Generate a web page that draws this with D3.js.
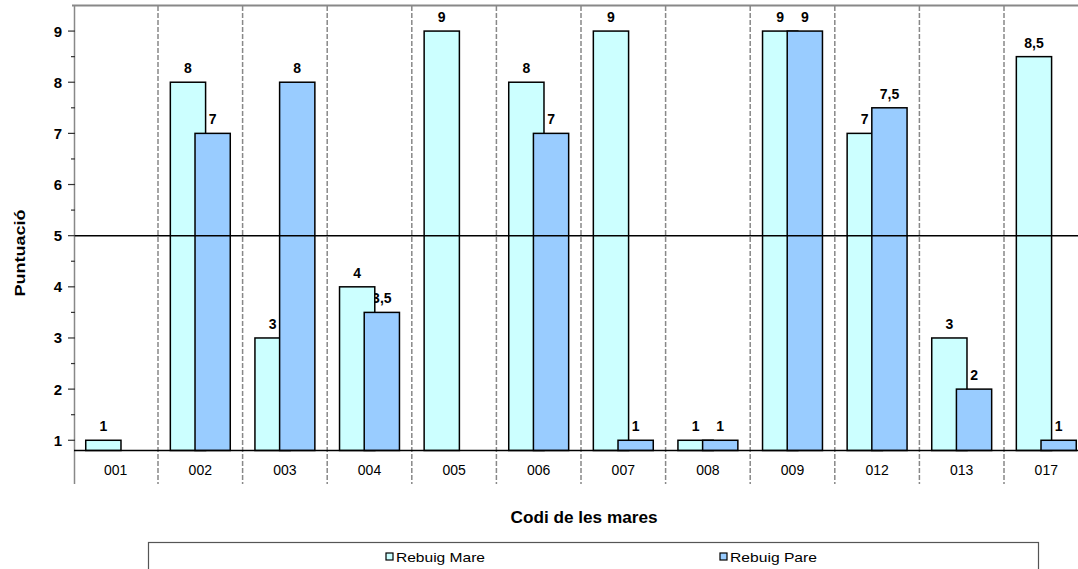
<!DOCTYPE html>
<html><head><meta charset="utf-8">
<script src="https://cdn.jsdelivr.net/npm/d3@7"></script>
<style>body{margin:0;background:#fff;overflow:hidden}svg{display:block}text{font-family:Arial,"Liberation Sans",sans-serif}</style>
</head><body>
<svg id="c" width="1078" height="569"></svg>
<script>
const categories = ["001","002","003","004","005","006","007","008","009","012","013","017"];
const mareValues = [1, 8, 3, 4, 9, 8, 9, 1, 9, 7, 3, 8.5];
const pareValues = [null, 7, 8, 3.5, null, 7, 1, 1, 9, 7.5, 2, 1];
const yTicks = [1,2,3,4,5,6,7,8,9];
const yMinorTicks = [1.5,2.5,3.5,4.5,5.5,6.5,7.5,8.5];
const seriesNames = ["Rebuig Mare","Rebuig Pare"];
const colors = ["#CCFFFF","#99CCFF"];

const svg = d3.select("#c");
const fmt = v => String(v).replace(".", ",");

const x = d3.scaleBand().domain(categories).range([73.4, 1088.6]).padding(0);
const y = d3.scaleLinear().domain([0.8, 9.5]).range([450.5, 5.5]);
const bw = x.bandwidth();
const w = bw / 2.4;
const mareX = c => x(c) + 0.35 * w;
const pareX = c => x(c) + 1.05 * w;

// vertical dashed category separators
svg.append("g").selectAll("line").data(categories.slice(1)).join("line")
  .attr("x1", d => x(d)).attr("x2", d => x(d))
  .attr("y1", 6).attr("y2", 484)
  .attr("stroke", "#888").attr("stroke-width", 1.5).attr("stroke-dasharray", "5,2");

// top border
svg.append("line").attr("x1", 72).attr("x2", 1078).attr("y1", 5.5).attr("y2", 5.5)
  .attr("stroke", "#888").attr("stroke-width", 2);
// left axis
svg.append("line").attr("x1", 74.5).attr("x2", 74.5).attr("y1", 5).attr("y2", 484)
  .attr("stroke", "#888").attr("stroke-width", 1.5);

// y axis ticks
svg.append("g").selectAll("line").data(yTicks).join("line")
  .attr("x1", 68).attr("x2", 75).attr("y1", d => y(d)).attr("y2", d => y(d))
  .attr("stroke", "#333").attr("stroke-width", 1.2);
svg.append("g").selectAll("line").data(yMinorTicks).join("line")
  .attr("x1", 71).attr("x2", 75).attr("y1", d => y(d)).attr("y2", d => y(d))
  .attr("stroke", "#333").attr("stroke-width", 1.2);
svg.append("g").selectAll("text").data(yTicks).join("text")
  .attr("x", 62).attr("y", d => y(d) + 5.5).attr("text-anchor", "end")
  .attr("font-size", 15).attr("font-weight", "bold").text(d => d);

// pare labels (drawn first, as in the original)
const pareData = categories.map((c, i) => ({c, v: pareValues[i]})).filter(d => d.v != null);
const mareData = categories.map((c, i) => ({c, v: mareValues[i]})).filter(d => d.v != null);

svg.append("g").selectAll("text").data(pareData).join("text")
  .attr("x", d => pareX(d.c) + w / 2).attr("y", d => y(d.v) - 9)
  .attr("text-anchor", "middle").attr("font-size", 14).attr("font-weight", "bold")
  .text(d => fmt(d.v));

// bars
svg.append("g").selectAll("rect").data(mareData).join("rect")
  .attr("x", d => mareX(d.c)).attr("width", w)
  .attr("y", d => y(d.v)).attr("height", d => y(0.8) - y(d.v))
  .attr("fill", colors[0]).attr("stroke", "#000").attr("stroke-width", 1.5);
svg.append("g").selectAll("rect").data(pareData).join("rect")
  .attr("x", d => pareX(d.c)).attr("width", w)
  .attr("y", d => y(d.v)).attr("height", d => y(0.8) - y(d.v))
  .attr("fill", colors[1]).attr("stroke", "#000").attr("stroke-width", 1.5);

svg.append("g").selectAll("text").data(mareData).join("text")
  .attr("x", d => mareX(d.c) + w / 2).attr("y", d => y(d.v) - 9)
  .attr("text-anchor", "middle").attr("font-size", 14).attr("font-weight", "bold")
  .text(d => fmt(d.v));

// reference line at 5
svg.append("line").attr("x1", 75).attr("x2", 1078).attr("y1", y(5)).attr("y2", y(5))
  .attr("stroke", "#000").attr("stroke-width", 1.5);

// bottom axis
svg.append("line").attr("x1", 74).attr("x2", 1078).attr("y1", 450.5).attr("y2", 450.5)
  .attr("stroke", "#000").attr("stroke-width", 1.5);

// category labels
svg.append("g").selectAll("text").data(categories).join("text")
  .attr("x", d => x(d) + bw / 2).attr("y", 475).attr("text-anchor", "middle")
  .attr("font-size", 14).text(d => d);

// axis titles
svg.append("text").attr("x", 584).attr("y", 523).attr("text-anchor", "middle")
  .attr("font-size", 16).attr("font-weight", "bold")
  .attr("textLength", 147).attr("lengthAdjust", "spacingAndGlyphs")
  .text("Codi de les mares");
svg.append("text").attr("transform", "translate(25,253) rotate(-90)")
  .attr("text-anchor", "middle").attr("font-size", 15).attr("font-weight", "bold")
  .attr("textLength", 87).attr("lengthAdjust", "spacingAndGlyphs")
  .text("Puntuació");

// legend
svg.append("rect").attr("x", 148.5).attr("y", 542.5).attr("width", 890).attr("height", 40)
  .attr("fill", "#fff").attr("stroke", "#555").attr("stroke-width", 1.2);
const legX = [386, 720];
const legTextLen = [89, 87];
seriesNames.forEach((n, i) => {
  svg.append("rect").attr("x", legX[i]).attr("y", 553).attr("width", 7).attr("height", 7)
    .attr("fill", colors[i]).attr("stroke", "#000").attr("stroke-width", 1.2);
  svg.append("text").attr("x", legX[i] + 10).attr("y", 562)
    .attr("font-size", 13.5).attr("textLength", legTextLen[i]).attr("lengthAdjust", "spacingAndGlyphs")
    .text(n);
});
</script>
</body></html>
